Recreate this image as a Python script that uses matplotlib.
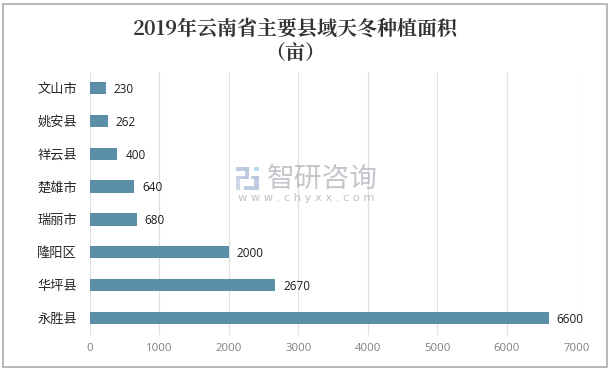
import matplotlib
matplotlib.use("Agg")
import matplotlib.pyplot as plt
from matplotlib.patches import Rectangle

categories = ["文山市", "姚安县", "祥云县", "楚雄市", "瑞丽市", "隆阳区", "华坪县", "永胜县"]
values = [230, 262, 400, 640, 680, 2000, 2670, 6600]
xticks = [0, 1000, 2000, 3000, 4000, 5000, 6000, 7000]
title = "2019年云南省主要县域天冬种植面积\n（亩）"

W, H = 611, 371
plt.rcParams['font.family'] = ['Noto Sans CJK SC', 'DejaVu Sans']
fig = plt.figure(figsize=(W / 100, H / 100), dpi=100)
fig.patch.set_facecolor("white")

def px(x, y, w, h):
    return [x / W, 1 - (y + h) / H, w / W, h / H]

# outer frame
fig.add_artist(Rectangle((2.5 / W, 1 - 366.5 / H), 604.5 / W, 363 / H, transform=fig.transFigure,
                         fill=False, ec="#a6a6a6", lw=1.1))

ax = fig.add_axes(px(89.5, 71.5, 487, 263))
y = list(range(len(categories)))
ax.barh(y, values, height=0.37, color="#5b8fa8", zorder=3)
ax.set_ylim(len(categories) - 0.5, -0.5)
ax.set_xlim(0, 7000)
ax.set_xticks(xticks)
ax.set_yticks(y)
ax.set_yticklabels(categories, fontsize=9.5, color="#262626", family=['Noto Sans CJK SC', 'DejaVu Sans'])
ax.tick_params(axis="y", length=0, pad=9)
ax.tick_params(axis="x", length=0, pad=6, labelsize=8.2, labelcolor="#7f7f7f")
for lab in ax.get_xticklabels():
    lab.set_family(['Open Sans', 'DejaVu Sans'])
ax.grid(axis="x", color="#e0e0e0", lw=0.9, zorder=0)
for s in ax.spines.values():
    s.set_visible(False)
for yi, v in zip(y, values):
    ax.annotate(str(v), (v, yi), xytext=(5.8, -1), textcoords="offset points", va="center", ha="left",
                fontsize=8.5, color="#1a1a1a", family=['Open Sans', 'DejaVu Sans'])

fig.text(295 / W, 1 - 41 / H, title, ha="center", va="center", fontsize=14.4, fontweight="bold",
         color="#333333", family=['Noto Serif CJK SC', 'Noto Sans CJK SC', 'DejaVu Sans'], linespacing=1.2)

# watermark
fig.text(322 / W, 1 - 179 / H, "智研咨询", ha="center", va="center", fontsize=20, color="#b4b9bf", alpha=0.8,
         zorder=5)
fig.text(306 / W, 1 - 198 / H, "w w w . c h y x x . c o m", ha="center", va="center", fontsize=8.2,
         color="#b4b9bf", alpha=0.85, family=['DejaVu Sans'], zorder=5)
for (x0, y0, w, h, c) in [(236, 167, 13, 4, "#b7c6de"), (245, 167, 4, 12, "#b7c6de"), (236, 176, 12, 3, "#b7c6de"),
                          (236, 176, 4, 14, "#c9d3e4"), (244, 186, 15, 4, "#b7c6de"), (251, 176, 8, 3, "#b7c6de"),
                          (254, 167, 5, 4, "#a6dcef"), (254, 176, 5, 12, "#b7c6de")]:
    fig.add_artist(Rectangle((x0 / W, 1 - (y0 + h) / H), w / W, h / H, transform=fig.transFigure,
                             fc=c, ec="none", alpha=0.9, zorder=5))

fig.savefig("out.png", dpi=100)
